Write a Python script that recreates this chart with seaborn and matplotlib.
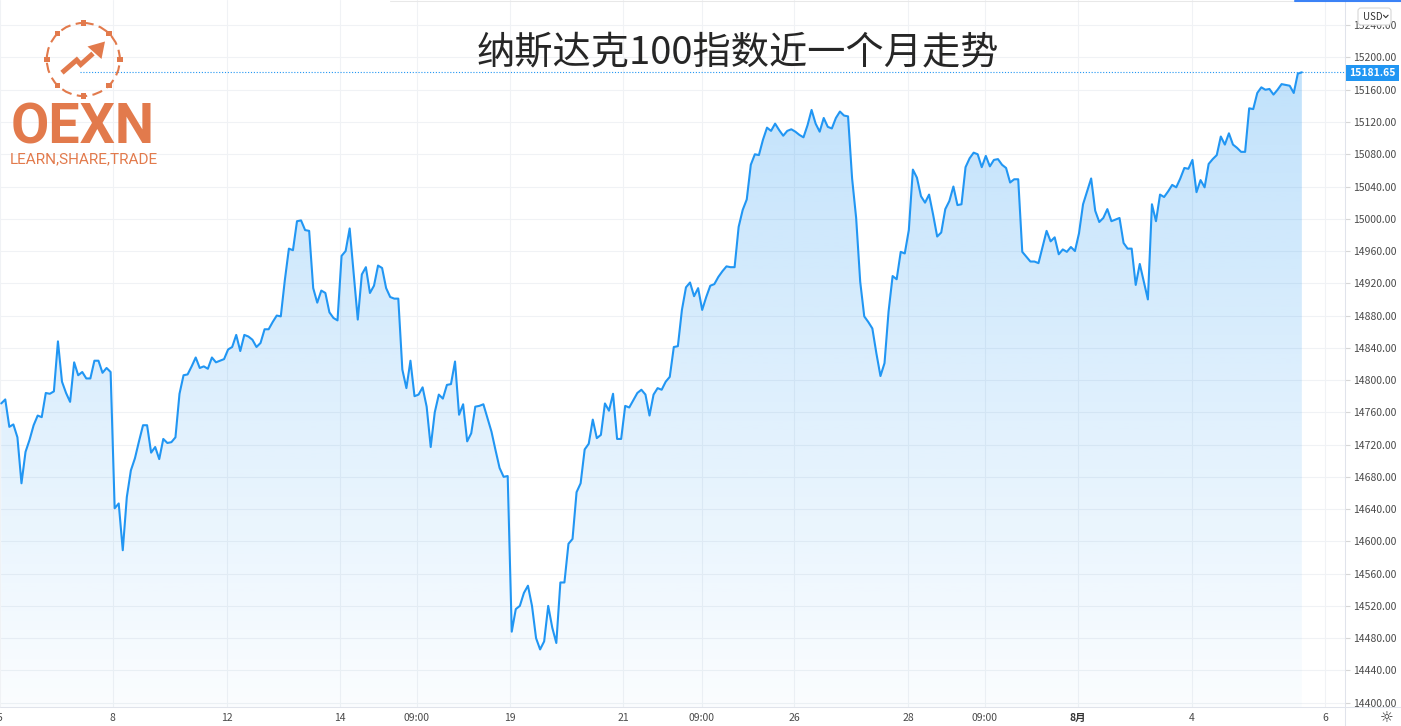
import numpy as np
import pandas as pd
import matplotlib
matplotlib.use("Agg")
import matplotlib.pyplot as plt
import matplotlib.patches as mpatches
from matplotlib.colors import to_rgb
import seaborn as sns

# ---------------- data ----------------
values = [
    14771, 14776, 14742, 14745, 14729, 14672, 14711, 14726, 14744, 14756,
    14754, 14784, 14783, 14786, 14848, 14798, 14784, 14773, 14822, 14806,
    14810, 14802, 14802, 14824, 14824, 14809, 14815, 14810, 14641, 14647,
    14589, 14655, 14688, 14703, 14724, 14744, 14744, 14710, 14717, 14702,
    14727, 14722, 14723, 14729, 14783, 14806, 14807, 14817, 14828, 14815,
    14817, 14814, 14828, 14822, 14824, 14826, 14838, 14841, 14856, 14836,
    14856, 14854, 14850, 14841, 14846, 14863, 14863, 14872, 14880, 14879,
    14924, 14963, 14961, 14997, 14998, 14986, 14985, 14914, 14896, 14911,
    14908, 14884, 14877, 14874, 14954, 14960, 14988, 14932, 14875, 14931,
    14940, 14908, 14917, 14942, 14939, 14914, 14903, 14901, 14901, 14813,
    14790, 14824, 14780, 14782, 14791, 14767, 14717, 14760, 14782, 14777,
    14794, 14795, 14823, 14757, 14770, 14724, 14734, 14767, 14768, 14770,
    14753, 14736, 14713, 14691, 14680, 14681, 14488, 14516, 14520, 14536,
    14545, 14520, 14480, 14466, 14476, 14520, 14493, 14474, 14549, 14549,
    14597, 14603, 14661, 14672, 14714, 14721, 14751, 14728, 14732, 14771,
    14762, 14783, 14727, 14727, 14768, 14766, 14775, 14784, 14788, 14782,
    14756, 14782, 14790, 14788, 14798, 14804, 14841, 14842, 14887, 14915,
    14921, 14904, 14914, 14887, 14903, 14917, 14919, 14928, 14935, 14941,
    14940, 14940, 14990, 15011, 15024, 15067, 15080, 15079, 15098, 15113,
    15109, 15118, 15110, 15103, 15109, 15111, 15108, 15104, 15101, 15116,
    15135, 15118, 15108, 15125, 15114, 15112, 15125, 15133, 15128, 15127,
    15050, 15001, 14922, 14879, 14872, 14864, 14833, 14805, 14821, 14885,
    14929, 14925, 14959, 14957, 14986, 15061, 15051, 15028, 15020, 15030,
    15005, 14978, 14983, 15012, 15022, 15040, 15017, 15018, 15064, 15075,
    15082, 15080, 15064, 15078, 15065, 15073, 15074, 15067, 15063, 15045,
    15049, 15049, 14959, 14953, 14947, 14947, 14945, 14965, 14985, 14972,
    14977, 14956, 14962, 14959, 14965, 14960, 14982, 15018, 15034, 15050,
    15010, 14996, 15001, 15012, 14997, 14999, 15001, 14970, 14963, 14963,
    14918, 14944, 14922, 14900, 15018, 14997, 15030, 15027, 15034, 15042,
    15039, 15050, 15063, 15062, 15073, 15033, 15048, 15039, 15068, 15074,
    15079, 15102, 15092, 15106, 15092, 15088, 15083, 15083, 15137, 15136,
    15156, 15163, 15160, 15161, 15154, 15160, 15167, 15166, 15165, 15156,
    15180, 15181.65,
]
x_tick_pos = [-0.3, 27.5, 55.65, 83.6, 102.5, 125.6, 153.5, 172.9, 195.7,
              223.9, 242.8, 265.8, 293.8, 326.7]
x_tick_labels = ["5", "8", "12", "14", "09:00", "19", "21", "09:00", "26",
                 "28", "09:00", "8月", "4", "6"]
y_ticks = list(range(14400, 15241, 40))
last_price = 15181.65
currency = "USD"
title = "纳斯达克100指数近一个月走势"
logo_word = "OEXN"
logo_slogan = "LEARN,SHARE,TRADE"

# ---------------- style ----------------
sns.set_style("white")
plt.rcParams["font.family"] = ["Noto Sans CJK SC", "DejaVu Sans"]

LINE = "#2196F3"
ORANGE = "#E27A4C"
TXT = "#4a4a4a"
GRID = "#f0f2f5"
BORDER = "#e0e3eb"

W, H = 1401, 726
AX_R, AX_B = 1345, 707
fig = plt.figure(figsize=(W / 100, H / 100), dpi=100)
ax = fig.add_axes([0, 1 - AX_B / H, AX_R / W, AX_B / H])

idx = np.arange(len(values))
df = pd.DataFrame({"i": idx, "v": values})
sns.lineplot(data=df, x="i", y="v", ax=ax, color=LINE, linewidth=1.5, zorder=4)

ybot, ytop = 14394.6, 15271.3
xmin, xmax = -0.3, 331.65

# gradient area fill
fb = ax.fill_between(idx, values, ybot, facecolor="none", edgecolor="none")
grad = np.zeros((256, 1, 4))
grad[..., :3] = to_rgb(LINE)
grad[:, 0, 3] = np.linspace(0.02, 0.31, 256)
im = ax.imshow(grad, extent=[idx[0], idx[-1], ybot, ytop], origin="lower",
               aspect="auto", zorder=2, interpolation="bilinear")
im.set_clip_path(fb.get_paths()[0], transform=ax.transData)

ax.set_xlim(xmin, xmax)
ax.set_ylim(ybot, ytop)

# last price dotted line
ax.axhline(last_price, xmin=80 / AX_R, xmax=1, color=LINE, lw=0.8,
           ls=(0, (1, 1.6)), zorder=3)

# ticks
ax.set_xticks(x_tick_pos)
ax.set_xticklabels(x_tick_labels)
ax.yaxis.tick_right()
ax.set_yticks(y_ticks)
ax.set_yticklabels([f"{v:.2f}" for v in y_ticks])
ax.tick_params(axis="x", length=0, pad=4.5, labelsize=7.5, labelcolor=TXT)
ax.tick_params(axis="y", length=3.6, width=0.8, color="#d6d6d6", pad=2.2,
               labelsize=7.5, labelcolor=TXT)
for lbl in ax.get_xticklabels():
    if lbl.get_text() == "8月":
        lbl.set_fontweight("bold")
        lbl.set_color("#333333")
ax.grid(True, color=GRID, lw=0.75)
ax.set_axisbelow(True)
for sp in ax.spines.values():
    sp.set_visible(False)
ax.set_xlabel("")
ax.set_ylabel("")

# ---------------- overlay in pixel coordinates ----------------
oax = fig.add_axes([0, 0, 1, 1], zorder=10)
oax.set_xlim(0, W)
oax.set_ylim(H, 0)
oax.axis("off")

# frame lines
oax.plot([AX_R, AX_R], [0, H], color=BORDER, lw=0.75)
oax.plot([0, W], [AX_B, AX_B], color=BORDER, lw=0.75)
oax.plot([390, 1295], [0.5, 0.5], color="#e8e8e8", lw=0.75)
oax.plot([1295, W], [0.8, 0.8], color="#3b82f6", lw=1.5)

# price label
oax.add_patch(mpatches.Rectangle((AX_R, 64.5), 54, 16, fc=LINE, ec="none"))
oax.text(AX_R + 27, 72.5, f"{last_price:.2f}", ha="center", va="center",
         fontsize=7.5, color="white", fontweight="bold")

# currency box
oax.add_patch(mpatches.FancyBboxPatch((1358, 8), 33, 17,
              boxstyle="round,pad=0,rounding_size=3", fc="white", ec="#d6d6d6", lw=0.8))
oax.text(1363, 16.5, currency, ha="left", va="center", fontsize=7, color="#333333")
oax.plot([1383.5, 1385.8, 1388.1], [15.2, 17.6, 15.2], color="#333333", lw=0.8)

# settings icon
oax.text(1387, 718, "☼", ha="center", va="center", fontsize=11, color="#333333",
         family=["DejaVu Sans"])

# title
oax.text(738, 53, title, ha="center", va="center", fontsize=27.5, color="#262626")

# logo
cx, cy, r = 83.3, 59.5, 36.5
oax.add_patch(mpatches.Circle((cx, cy), r, fill=False, ec=ORANGE, lw=1.5,
                              ls=(0, (5, 2.6))))
for a in np.deg2rad(np.arange(0, 360, 45)):
    px, py = cx + r * np.cos(a), cy + r * np.sin(a)
    oax.add_patch(mpatches.Rectangle((px - 2.8, py - 2.8), 5.6, 5.6, fc=ORANGE, ec="none"))
oax.plot([62, 76.7, 80.7, 93], [72.7, 60, 64.5, 53.5], color=ORANGE, lw=3.6,
         solid_joinstyle="miter", solid_capstyle="butt")
oax.add_patch(mpatches.Polygon([(87.5, 46.5), (105, 41.5), (101.5, 59)],
                               closed=True, fc=ORANGE, ec="none"))
oax.text(82.5, 128, logo_word, ha="center", va="center", fontsize=40,
         color=ORANGE, fontweight="bold", family=["Roboto", "DejaVu Sans"])
oax.text(83.5, 159, logo_slogan, ha="center", va="center", fontsize=11,
         color=ORANGE, family=["Roboto", "DejaVu Sans"])

fig.savefig("out.png", dpi=100)
